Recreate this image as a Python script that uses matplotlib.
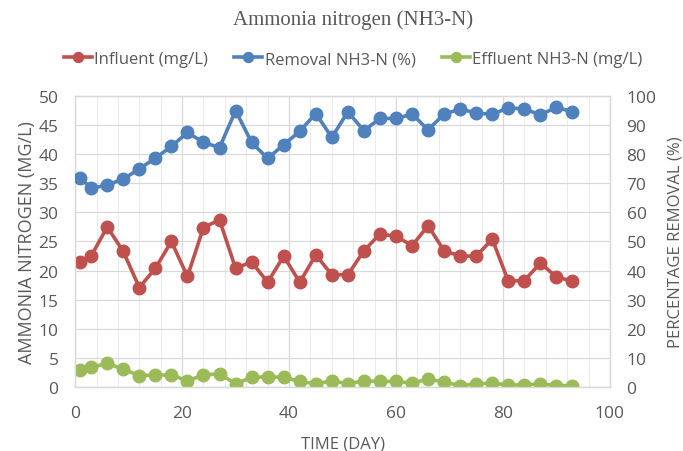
import matplotlib
matplotlib.use("Agg")
import matplotlib.pyplot as plt
from matplotlib.ticker import MultipleLocator

days = [1] + list(range(3, 94, 3))
influent = [21.4, 22.5, 27.5, 23.3, 17.1, 20.4, 25.0, 19.0, 27.4, 28.7,
            20.4, 21.5, 18.0, 22.5, 18.0, 22.7, 19.3, 19.3, 23.4, 26.3,
            25.9, 24.3, 27.7, 23.4, 22.5, 22.5, 25.4, 18.2, 18.3, 21.3,
            18.9, 18.2]
removal = [71.8, 68.2, 69.4, 71.4, 74.9, 78.6, 82.6, 87.4, 84.0, 82.2,
           94.9, 84.0, 78.5, 83.2, 87.8, 93.9, 85.7, 94.5, 88.0, 92.2,
           92.2, 93.7, 88.3, 93.7, 95.4, 94.1, 93.6, 95.9, 95.4, 93.5,
           96.0, 94.5]
effluent = [2.9, 3.4, 4.1, 3.1, 2.0, 2.1, 2.1, 1.1, 2.1, 2.3,
            0.6, 1.7, 1.8, 1.7, 1.0, 0.6, 1.1, 0.6, 1.1, 1.0,
            1.0, 0.7, 1.4, 0.9, 0.3, 0.6, 0.7, 0.4, 0.4, 0.6,
            0.3, 0.3]

RED = "#C0504D"
BLUE = "#4F81BD"
GREEN = "#9BBB59"
GRID = "#D9D9D9"
TXT = "#595959"

plt.rcParams['font.family'] = ['Open Sans', 'DejaVu Sans']

fig = plt.figure(figsize=(6.83, 4.52), dpi=100)
ax = fig.add_axes([0.110, 0.141, 0.783, 0.645])
ax2 = ax.twinx()

lw = 2.6
ms = 9
l1, = ax.plot(days, influent, color=RED, lw=lw, marker='o', ms=ms, label='Influent (mg/L)', zorder=3)
l3, = ax.plot(days, effluent, color=GREEN, lw=lw, marker='o', ms=ms, label='Effluent NH3-N (mg/L)', zorder=3)
l2, = ax2.plot(days, removal, color=BLUE, lw=lw, marker='o', ms=ms, label='Removal NH3-N (%)', zorder=3)

ax.set_xlim(0, 100)
ax.set_ylim(0, 50)
ax2.set_ylim(0, 100)
ax.xaxis.set_major_locator(MultipleLocator(20))
ax.xaxis.set_minor_locator(MultipleLocator(4))
ax.yaxis.set_major_locator(MultipleLocator(5))
ax2.yaxis.set_major_locator(MultipleLocator(10))

ax.grid(True, which='major', axis='both', color=GRID, lw=0.9, zorder=0)
ax.grid(True, which='minor', axis='x', color=GRID, lw=0.6, alpha=0.6, zorder=0)
ax.set_axisbelow(True)

for a in (ax, ax2):
    for s in a.spines.values():
        s.set_color(GRID)
        s.set_linewidth(0.9)
    a.tick_params(which='both', length=0, colors=TXT, labelsize=12.5)
ax.tick_params(axis='x', pad=13)
ax.tick_params(axis='y', pad=12)
ax2.tick_params(axis='y', pad=12)

ax.set_xlabel('TIME (DAY)', color=TXT, fontsize=12, labelpad=10)
ax.set_ylabel('AMMONIA NITROGEN (MG/L)', color=TXT, fontsize=13, labelpad=2)
ax2.set_ylabel('PERCENTAGE REMOVAL (%)', color=TXT, fontsize=12, labelpad=8)

fig.text(0.517, 0.955, 'Ammonia nitrogen (NH3-N)', ha='center', va='center',
         fontsize=15, color=TXT, family=['Liberation Serif', 'DejaVu Serif'])

leg = fig.legend(handles=[l1, l2, l3], loc='center', bbox_to_anchor=(0.517, 0.867),
                 ncol=3, frameon=False, fontsize=12, handlelength=1.7,
                 handletextpad=0.15, columnspacing=1.55, markerscale=0.8)
for t in leg.get_texts():
    t.set_color(TXT)

fig.savefig('out.png', dpi=100)
